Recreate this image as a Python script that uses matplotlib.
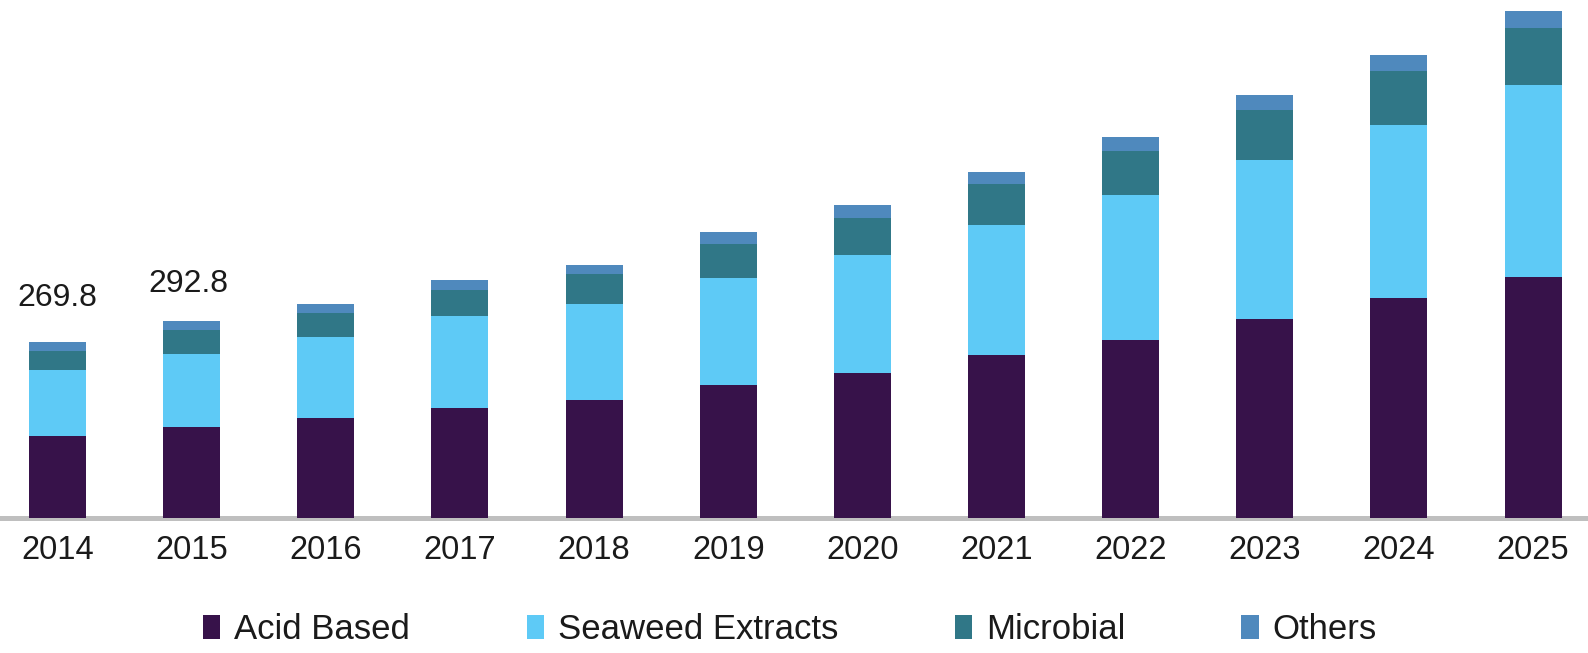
import matplotlib
matplotlib.use("Agg")
import matplotlib.pyplot as plt
from matplotlib.patches import Patch
import numpy as np

years = ["2014", "2015", "2016", "2017", "2018", "2019", "2020", "2021", "2022", "2023", "2024", "2025"]
acid_based = [125.7, 139.5, 153.3, 168.6, 180.9, 203.9, 222.3, 249.9, 272.9, 305.1, 337.3, 369.5]
seaweed_extracts = [101.2, 111.9, 124.2, 141.0, 147.2, 164.0, 180.9, 199.3, 222.3, 243.7, 265.2, 294.3]
microbial = [29.1, 36.8, 36.8, 39.9, 46.0, 52.1, 56.7, 62.9, 67.5, 76.7, 82.8, 87.4]
others = [13.8, 13.8, 13.8, 15.3, 13.8, 18.4, 19.9, 18.4, 21.5, 23.0, 24.5, 26.1]
total_labels = ["269.8", "292.8"]

series = [
    ("Acid Based", acid_based, "#37124a"),
    ("Seaweed Extracts", seaweed_extracts, "#5ecaf6"),
    ("Microbial", microbial, "#307787"),
    ("Others", others, "#4f89bd"),
]

plt.rcParams['font.family'] = ['Liberation Sans', 'DejaVu Sans']
fig = plt.figure(figsize=(15.88, 6.53), dpi=100)
ax = fig.add_axes([0, 0.2067, 1, 0.7933])

x = np.arange(len(years))
bottom = np.zeros(len(years))
handles = []
for name, vals, col in series:
    v = np.array(vals)
    ax.bar(x, v, width=0.425, bottom=bottom, color=col, zorder=3)
    bottom += v
    handles.append(Patch(facecolor=col, edgecolor='none', label=name))

label_offsets = [(0, 31.5), (-2.5, 26.5)]
for i, lab in enumerate(total_labels):
    ax.annotate(lab, (x[i], bottom[i]), xytext=label_offsets[i], textcoords='offset points',
                ha='center', va='center', fontsize=23, color='#1a1a1a')

ax.set_xlim(-0.4286, 11.409)
ax.set_ylim(0, 794)
for s in ['top', 'right', 'left']:
    ax.spines[s].set_visible(False)
ax.spines['bottom'].set_color('#bfbfbf')
ax.spines['bottom'].set_linewidth(3.6)
ax.spines['bottom'].set_zorder(2)
ax.set_yticks([])
ax.set_xticks(x)
ax.set_xticklabels(years, fontsize=23.5, color='#1a1a1a')
ax.tick_params(axis='x', length=0, pad=12)

fig.legend(handles=handles, loc='center', bbox_to_anchor=(0.4975, 0.036), ncol=4,
           frameon=False, fontsize=25, handlelength=0.5, handleheight=0.7,
           handletextpad=0.4, columnspacing=3.35, labelcolor='#1a1a1a')

fig.savefig("out.png", dpi=100)
